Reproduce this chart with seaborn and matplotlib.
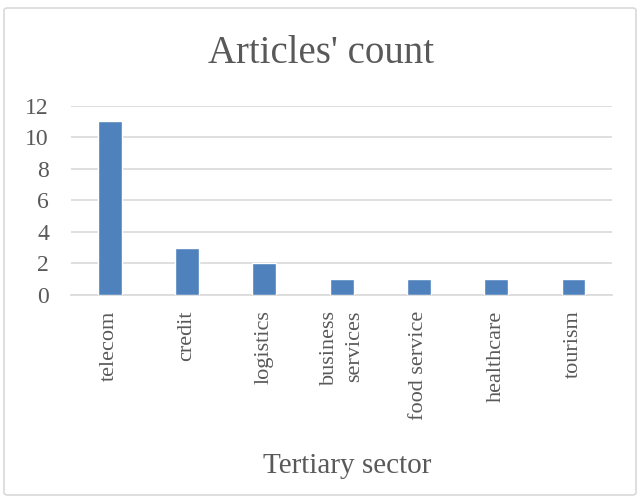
import matplotlib
matplotlib.use("Agg")
import matplotlib.pyplot as plt
from matplotlib.patches import FancyBboxPatch
import seaborn as sns
import pandas as pd

sectors = ["telecom", "credit", "logistics", "business\nservices",
           "food service", "healthcare", "tourism"]
counts = [11, 3, 2, 1, 1, 1, 1]

sns.set_theme(style="white")
plt.rcParams["font.family"] = ["Liberation Serif", "DejaVu Serif"]

text_color = "#595959"
grid_color = "#D9D9D9"
bar_color = "#4F81BD"

df = pd.DataFrame({"sector": sectors, "count": counts})

fig = plt.figure(figsize=(6.41, 5.0), dpi=100)
ax = fig.add_axes([0.111, 0.41, 0.844, 0.379])

sns.barplot(data=df, x="sector", y="count", color=bar_color,
            width=0.31, saturation=1, ax=ax, zorder=3)

ax.set_ylim(0, 12)
ax.set_yticks(range(0, 13, 2))
ax.yaxis.grid(True, color=grid_color, linewidth=1.2, zorder=0)
ax.set_axisbelow(True)
for side in ["left", "right", "top"]:
    ax.spines[side].set_visible(False)
ax.spines["bottom"].set_color(grid_color)
ax.spines["bottom"].set_linewidth(1.2)
ax.tick_params(axis="both", length=0, colors=text_color)
ax.tick_params(axis="x", pad=11, labelsize=16)
ax.tick_params(axis="y", pad=16, labelsize=17)
for lbl in ax.get_yticklabels():
    lbl.set_horizontalalignment("right")
for lbl in ax.get_xticklabels():
    lbl.set_rotation(90)
    lbl.set_va("top")
    lbl.set_ha("center")
    lbl.set_multialignment("right")
    lbl.set_linespacing(1.45)

ax.set_ylabel("")
ax.set_xlabel("Tertiary sector", fontsize=21, color=text_color, labelpad=24)
ax.xaxis.label.set_x(0.51)
fig.text(0.5, 0.893, "Articles' count", ha="center", va="center",
         fontsize=28, color=text_color)

border = FancyBboxPatch((4 / 641, 5 / 500), 632 / 641, 487 / 500,
                        boxstyle="round,pad=0,rounding_size=0.005",
                        transform=fig.transFigure, fill=False,
                        edgecolor=grid_color, linewidth=1.2)
fig.patches.append(border)

fig.savefig("out.png", dpi=100)
